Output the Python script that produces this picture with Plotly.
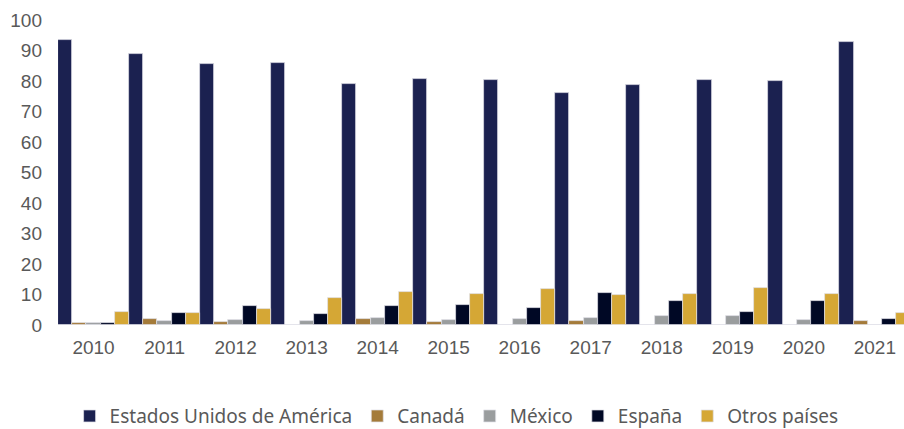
import plotly.graph_objects as go

years = ["2010", "2011", "2012", "2013", "2014", "2015", "2016", "2017", "2018", "2019", "2020", "2021"]
usa = [93.4, 88.9, 85.6, 85.9, 79.0, 80.7, 80.3, 76.1, 78.7, 80.3, 80.0, 92.8]
canada = [0.75, 2.0, 1.1, 0.0, 1.9, 0.9, 0.0, 1.2, 0.0, 0.0, 0.0, 1.2]
mexico = [0.7, 1.2, 1.7, 1.3, 2.3, 1.6, 2.1, 2.4, 3.1, 3.1, 1.6, 0.0]
espana = [0.5, 3.8, 6.3, 3.5, 6.1, 6.6, 5.7, 10.5, 7.9, 4.4, 7.8, 1.9]
otros = [4.2, 3.9, 5.2, 9.0, 10.7, 10.2, 11.8, 9.8, 10.2, 12.0, 10.3, 4.0]
y_ticks = [0, 10, 20, 30, 40, 50, 60, 70, 80, 90, 100]

series = [
    ("Estados Unidos de América", usa, "#1B2150"),
    ("Canadá", canada, "#A47B3A"),
    ("México", mexico, "#9A9D9E"),
    ("España", espana, "#000825"),
    ("Otros países", otros, "#D5A735"),
]

fig = go.Figure()
for name, vals, col in series:
    fig.add_trace(go.Bar(
        x=list(range(len(years))), y=vals, name=name,
        marker=dict(color=col, line=dict(color="rgba(225,225,232,0.9)", width=0.8)),
    ))

fig.update_layout(
    width=904, height=429,
    margin=dict(l=58, r=0, t=20, b=104),
    barmode="group", bargap=0, bargroupgap=0,
    plot_bgcolor="white", paper_bgcolor="white",
    font=dict(family="Liberation Sans, Arial", size=19, color="#595959"),
    xaxis=dict(
        tickmode="array", tickvals=list(range(len(years))), ticktext=years,
        range=[-0.5, 11.41], showgrid=False, zeroline=False, showline=False,
        ticks="", ticklabelstandoff=9,
        tickfont=dict(size=19, color="#595959"),
    ),
    yaxis=dict(
        range=[0, 100], tickvals=y_ticks, showgrid=False, zeroline=False,
        showline=False, ticks="", ticklabelstandoff=15,
        tickfont=dict(size=19, color="#595959"),
    ),
    legend=dict(
        orientation="h", xref="container", yref="container",
        x=0.077, y=0.03, xanchor="left", yanchor="middle",
        font=dict(family="Noto Sans", size=19, color="#595959"),
        itemwidth=30, traceorder="normal",
    ),
    showlegend=True,
)

fig.write_html("out.html", config={"displayModeBar": False},
               post_script="document.body.style.margin='0px';")
